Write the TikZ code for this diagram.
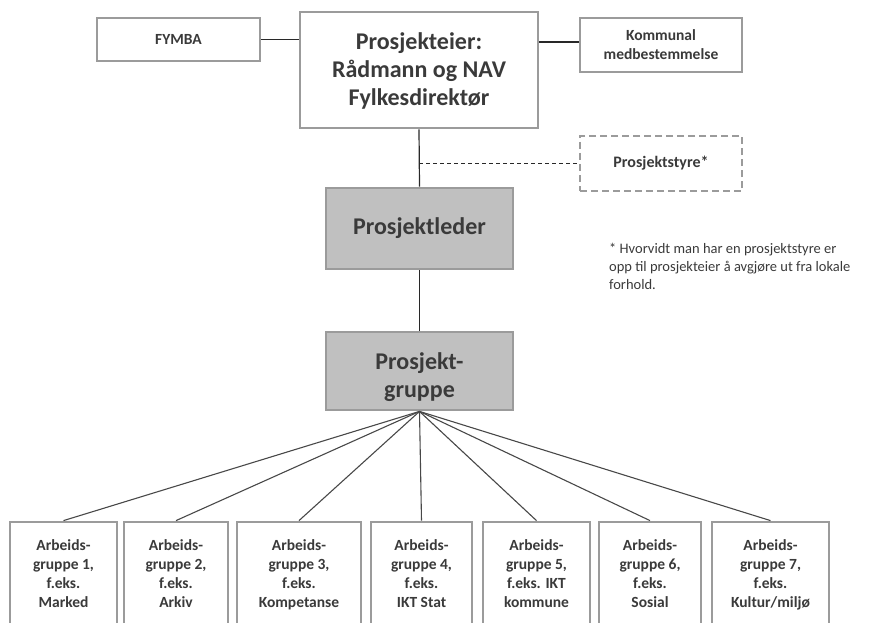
\documentclass[tikz,border=0pt]{standalone}
\usepackage{fontspec}
\setmainfont{Carlito}
\definecolor{boxgray}{RGB}{155,155,155}
\definecolor{fillgray}{RGB}{192,192,192}
\definecolor{txt}{RGB}{58,58,58}
\definecolor{linec}{RGB}{40,40,40}
\begin{document}
\begin{tikzpicture}[x=1pt,y=-1pt,
  box/.style={draw=boxgray,line width=2.8pt,fill=white,inner sep=0pt,text=txt,align=center,
    font=\bfseries\fontsize{15.5}{19}\selectfont},
  greybox/.style={box,fill=fillgray,font=\bfseries\fontsize{24}{28.5}\selectfont},
  bigbox/.style={box,font=\bfseries\fontsize{24}{28.5}\selectfont},
  dbox/.style={box,dash pattern=on 7pt off 4pt,font=\bfseries\fontsize{16}{19}\selectfont},
  lbl/.style={inner sep=0pt,text=txt,align=center,font=\bfseries\fontsize{15.5}{19}\selectfont},
  biglbl/.style={inner sep=0pt,text=txt,align=center,font=\bfseries\fontsize{24}{28}\selectfont},
  conn/.style={draw=linec,line width=1.2pt},
  fan/.style={draw=linec!85,line width=1.1pt},
  dconn/.style={draw=linec,line width=1.2pt,dash pattern=on 4pt off 3pt},
  note/.style={inner sep=0pt,text=txt,align=left,font=\fontsize{14.5}{18}\selectfont}
]
\useasboundingbox (0,0) rectangle (886,623);
\clip (0,0) rectangle (886,623);

% top row
\node[box,minimum width=163pt,minimum height=43pt] (fymba) at (178.5,39.5) {FYMBA};
\node[bigbox,minimum width=238pt,minimum height=116pt] (main) at (419,70)
  {};
\node[biglbl] (maint) at (419,72) {\strut Prosjekteier:\\Rådmann og NAV\\Fylkesdirektør\strut};
\node[box,minimum width=162pt,minimum height=54pt] (kom) at (661,45) {Kommunal\\medbestemmelse};
\node[dbox,minimum width=162pt,minimum height=55pt] (styre) at (661,163.5) {Prosjektstyre*};

% middle
\node[greybox,minimum width=187pt,minimum height=81pt] (leder) at (419.5,228.5) {Prosjektleder};
\node[greybox,minimum width=187pt,minimum height=78pt] (gruppe) at (419.5,371) {};
\node[biglbl] (gruppet) at (419.5,378) {\strut Prosjekt-\\gruppe\strut};

\node[note,anchor=north west] (notetxt) at (609,243)
  {* Hvorvidt man har en prosjektstyre er\\opp til prosjekteier å avgjøre ut fra lokale\\forhold.};

% bottom boxes
\foreach \n/\xa/\xb/\t in {
  1/10/117/{Arbeids-\\gruppe 1,\\f.eks.\\Marked},
  2/124/228/{Arbeids-\\gruppe 2,\\f.eks.\\Arkiv},
  3/237/361/{Arbeids-\\gruppe 3,\\f.eks.\\Kompetanse},
  4/371/472/{Arbeids-\\gruppe 4,\\f.eks.\\IKT Stat},
  5/483/590/{Arbeids-\\gruppe 5,\\f.eks. IKT\\kommune},
  6/599/701/{Arbeids-\\gruppe 6,\\f.eks.\\Sosial},
  7/712/829/{Arbeids-\\gruppe 7,\\f.eks.\\Kultur/miljø}}{
  \pgfmathsetmacro{\cx}{(\xa+\xb)/2}
  \pgfmathsetmacro{\bw}{\xb-\xa}
  \node[box,minimum width=\bw pt,minimum height=128pt] (arb\n) at (\cx,586) {};
  \node[lbl] (arb\n t) at (\cx,575) {\strut\t\strut};
}

% connectors
\draw[conn] (fymba.east) -- (fymba.east -| main.west);
\coordinate (komin) at ([yshift=3pt]kom.west);
\draw[conn] (komin) -- (komin -| main.east);
\draw[conn] (main.south) -- (leder.north);
\coordinate (branch) at (main.south |- styre.west);
\draw[dconn] (branch) -- (styre.west);
\draw[conn] (leder.south) -- (gruppe.north);
\foreach \n in {1,...,7}{
  \draw[fan] (gruppe.south) -- (arb\n.north);
}
\end{tikzpicture}
\end{document}
